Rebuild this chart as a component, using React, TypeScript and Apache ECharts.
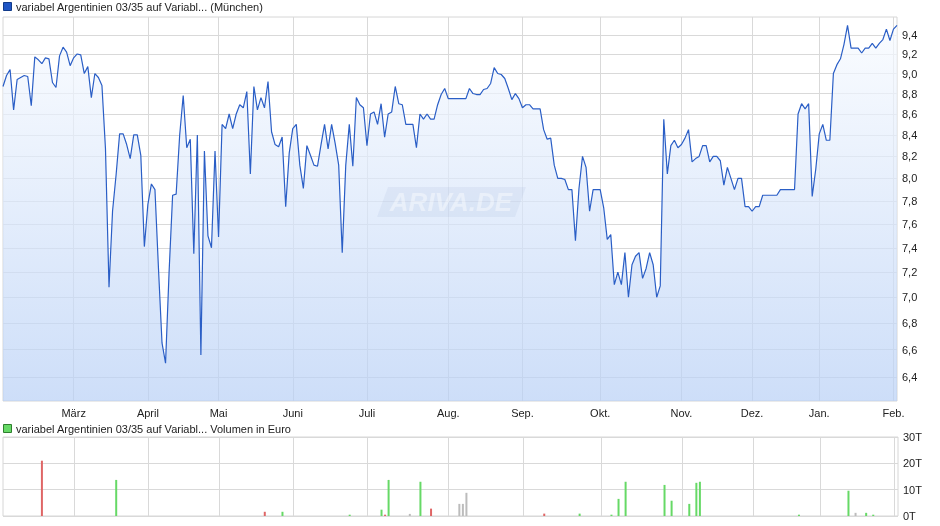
import React, { useEffect, useRef } from "react";
import * as echarts from "echarts";

// Trading-day closing prices, one array per month (Feb 2025 .. Feb 2026)
const priceFeb25 = [8.87, 8.98, 9.04, 8.64, 8.94, 8.96, 8.98, 8.97, 8.68, 9.17, 9.14, 9.1, 9.16, 9.15, 8.91, 8.86, 9.18, 9.27, 9.22, 9.08];
const priceMar25 = [9.16, 9.2, 9.19, 9.0, 9.07, 8.76, 9.0, 8.96, 8.88, 8.27, 7.08, 7.71, 8.03, 8.41, 8.41, 8.31, 8.18, 8.4, 8.4, 8.21, 7.41];
const priceApr25 = [7.77, 7.95, 7.9, 7.23, 6.65, 6.5, 7.2, 7.85, 7.86, 8.4, 8.78, 8.28, 8.36, 7.35, 8.4, 6.56, 8.25, 7.5, 7.4, 8.25];
const priceMay25 = [7.49, 8.5, 8.46, 8.6, 8.46, 8.6, 8.69, 8.66, 8.82, 8.04, 8.87, 8.64, 8.76, 8.66, 8.92, 8.43, 8.31, 8.29, 8.38, 7.75, 8.23];
const priceJun25 = [8.46, 8.5, 8.12, 7.91, 8.3, 8.21, 8.12, 8.11, 8.31, 8.5, 8.27, 8.5, 8.32, 8.12, 7.36, 8.12, 8.5, 8.11, 8.76, 8.69, 8.66];
const priceJul25 = [8.3, 8.6, 8.62, 8.5, 8.7, 8.38, 8.6, 8.62, 8.87, 8.7, 8.69, 8.5, 8.5, 8.5, 8.28, 8.6, 8.55, 8.6, 8.55, 8.55, 8.69, 8.79, 8.85];
const priceAug25 = [8.75, 8.75, 8.75, 8.75, 8.75, 8.75, 8.85, 8.8, 8.79, 8.79, 8.84, 8.85, 8.9, 9.06, 9.0, 8.99, 8.95, 8.85, 8.74, 8.8, 8.75];
const priceSep25 = [8.66, 8.69, 8.69, 8.65, 8.65, 8.65, 8.45, 8.36, 8.37, 8.12, 8.0, 8.0, 7.99, 7.9, 7.9, 7.46, 7.91, 8.2, 8.1, 7.71, 7.9, 7.9];
const priceOct25 = [7.9, 7.74, 7.47, 7.51, 7.1, 7.2, 7.1, 7.36, 7.0, 7.26, 7.33, 7.36, 7.15, 7.23, 7.36, 7.26, 7.0, 7.09, 8.55, 8.04, 8.3, 8.35, 8.28];
const priceNov25 = [8.31, 8.37, 8.45, 8.15, 8.18, 8.2, 8.3, 8.3, 8.15, 8.2, 8.2, 8.16, 7.94, 8.1, 8.0, 7.9, 8.0, 8.0, 7.75, 7.75];
const priceDec25 = [7.71, 7.75, 7.75, 7.85, 7.85, 7.85, 7.85, 7.85, 7.9, 7.9, 7.9, 7.9, 7.9, 8.6, 8.7, 8.65, 8.7, 7.84, 8.08];
const priceJan26 = [8.41, 8.5, 8.35, 8.35, 9.0, 9.09, 9.15, 9.3, 9.5, 9.26, 9.26, 9.26, 9.21, 9.26, 9.26, 9.31, 9.26, 9.31, 9.35, 9.46, 9.34];
const priceFeb26 = [9.46, 9.5];

// Month label shown at the first trading day of each month (Feb 2025 has none)
const monthLabels = ["", "März", "April", "Mai", "Juni", "Juli", "Aug.", "Sep.", "Okt.", "Nov.", "Dez.", "Jan.", "Feb."];

// Price axis tick labels (logarithmic scale)
const priceTicks = [6.4, 6.6, 6.8, 7.0, 7.2, 7.4, 7.6, 7.8, 8.0, 8.2, 8.4, 8.6, 8.8, 9.0, 9.2, 9.4];
const priceMin = 6.23;
const priceMax = 9.59;

// Volume (in thousand euro), by trading-day index
const volumeIndex = [11, 32, 74, 79, 98, 107, 108, 109, 115, 118, 121, 129, 130, 131, 153, 163, 172, 174, 176, 187, 189, 194, 196, 197, 225, 239, 241, 244, 246];
const volumeK = [21, 13.7, 1.6, 1.6, 0.5, 2.4, 0.5, 13.7, 0.8, 13, 2.8, 4.6, 4.6, 8.8, 0.9, 0.9, 0.5, 6.5, 13, 11.8, 5.8, 4.6, 12.6, 13, 0.5, 9.6, 1.2, 1.2, 0.5];

const months = [priceFeb25, priceMar25, priceApr25, priceMay25, priceJun25, priceJul25, priceAug25, priceSep25, priceOct25, priceNov25, priceDec25, priceJan26, priceFeb26];

export default function App() {
  const ref = useRef<HTMLDivElement>(null);

  useEffect(() => {
    const chart = echarts.init(ref.current!, null, { renderer: "svg" });

    const prices: number[] = [];
    const labelAt: Record<number, string> = {};
    months.forEach((m, mi) => {
      if (mi > 0) labelAt[prices.length] = monthLabels[mi];
      prices.push(...m);
    });
    const categories = prices.map((_, i) => "d" + i);
    const isMonthStart = (i: number) => labelAt[i] !== undefined;

    const volData: any[] = prices.map(() => null);
    volumeIndex.forEach((idx, k) => {
      const d = prices[idx] - prices[idx - 1];
      const color = d > 0.0001 ? "#66d966" : d < -0.0001 ? "#df6666" : "#bcbcbc";
      volData[idx] = { value: volumeK[k], itemStyle: { color } };
    });

    const lnTicks = priceTicks.map((v) => Math.log(v));
    const font = "'Liberation Sans', Arial, sans-serif";
    const narrow = "'Liberation Sans Narrow', 'Arial Narrow', 'Liberation Sans', sans-serif";
    const gridLine = { show: true, lineStyle: { color: "#d9d9d9", width: 1 } };

    const option: any = {
      animation: false,
      grid: [
        { left: 3, right: 43, top: 17, bottom: 125, show: true, borderColor: "#d6d6d6", borderWidth: 1 },
        { left: 3, right: 42, top: 437, bottom: 10, show: true, borderColor: "#d6d6d6", borderWidth: 1 },
      ],
      xAxis: [
        {
          type: "category",
          gridIndex: 0,
          data: categories,
          boundaryGap: false,
          axisLine: { show: false },
          axisTick: { show: false },
          axisLabel: {
            show: true,
            interval: (i: number) => isMonthStart(i),
            formatter: (_v: string, i: number) => labelAt[i] || "",
            fontSize: 11,
            fontFamily: narrow,
            color: "#222",
            margin: 6,
          },
          splitLine: { ...gridLine, interval: (i: number) => isMonthStart(i) },
        },
        {
          type: "category",
          gridIndex: 1,
          data: categories,
          boundaryGap: false,
          axisLine: { show: false },
          axisTick: { show: false },
          axisLabel: { show: false },
          splitLine: { ...gridLine, interval: (i: number) => isMonthStart(i) },
        },
      ],
      yAxis: [
        {
          type: "value",
          gridIndex: 0,
          position: "right",
          min: Math.log(priceMin),
          max: Math.log(priceMax),
          axisLine: { show: false },
          axisTick: { show: false, customValues: lnTicks },
          axisLabel: {
            customValues: lnTicks,
            formatter: (v: number) => Math.exp(v).toFixed(1).replace(".", ","),
            fontSize: 11,
            fontFamily: font,
            color: "#222",
            margin: 5,
          },
          splitLine: gridLine,
        },
        {
          type: "value",
          gridIndex: 1,
          position: "right",
          min: 0,
          max: 30,
          interval: 10,
          axisLine: { show: false },
          axisTick: { show: false },
          axisLabel: {
            formatter: "{value}T",
            fontSize: 11,
            fontFamily: font,
            color: "#222",
            margin: 5,
          },
          splitLine: gridLine,
        },
      ],
      series: [
        {
          type: "line",
          xAxisIndex: 0,
          yAxisIndex: 0,
          data: prices.map((v) => Math.log(v)),
          symbol: "none",
          lineStyle: { color: "#2a5ec6", width: 1.2 },
          areaStyle: {
            origin: "start",
            color: new echarts.graphic.LinearGradient(0, 0, 0, 1, [
              { offset: 0, color: "#f8fbff" },
              { offset: 1, color: "#b8d0f6" },
            ]),
          },
          z: 3,
        },
        {
          type: "bar",
          xAxisIndex: 1,
          yAxisIndex: 1,
          data: volData,
          barWidth: 2,
        },
      ],
      graphic: [
        {
          type: "polygon",
          shape: { points: [[388, 187], [526, 187], [515, 217], [377, 217]] },
          style: { fill: "rgba(160,180,215,0.16)" },
          z: 10,
        },
        {
          type: "text",
          x: 451,
          y: 202,
          style: {
            text: "ARIVA.DE",
            fontSize: 26,
            fontStyle: "italic",
            fontWeight: "bold",
            fontFamily: font,
            fill: "rgba(255,255,255,0.4)",
            align: "center",
            verticalAlign: "middle",
          },
          z: 11,
        },
        {
          type: "rect",
          shape: { x: 3.5, y: 2.5, width: 8, height: 8 },
          style: { fill: "#1f55c4", stroke: "#113a8a", lineWidth: 1 },
        },
        {
          type: "text",
          x: 16,
          y: 7,
          style: {
            text: "variabel Argentinien 03/35 auf Variabl... (München)",
            fontSize: 11,
            fontFamily: font,
            fill: "#222",
            verticalAlign: "middle",
          },
        },
        {
          type: "rect",
          shape: { x: 3.5, y: 424.5, width: 8, height: 8 },
          style: { fill: "#66d966", stroke: "#2f7f2f", lineWidth: 1 },
        },
        {
          type: "text",
          x: 16,
          y: 429,
          style: {
            text: "variabel Argentinien 03/35 auf Variabl... Volumen in Euro",
            fontSize: 11,
            fontFamily: font,
            fill: "#222",
            verticalAlign: "middle",
          },
        },
      ],
    };

    chart.setOption(option);
    return () => chart.dispose();
  }, []);

  return <div ref={ref} style={{ position: "fixed", left: 0, top: 0, width: 940, height: 526 }} />;
}
